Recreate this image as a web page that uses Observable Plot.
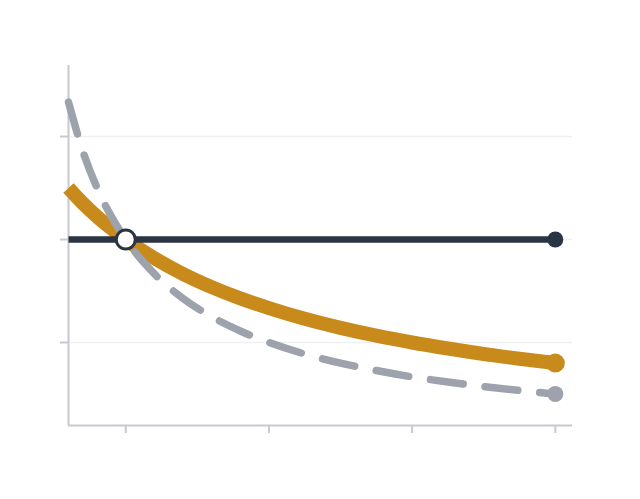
<!DOCTYPE html>
<html>
<head>
<meta charset="utf-8">
<script src="https://cdn.jsdelivr.net/npm/d3@7"></script>
<script src="https://cdn.jsdelivr.net/npm/@observablehq/plot@0.6"></script>
<style>
  html, body { margin: 0; padding: 0; background: #ffffff; }
  #chart svg { display: block; }
</style>
</head>
<body>
<div id="chart"></div>
<script>
// Values
const xs         = [0.6, 0.7, 0.8, 0.9, 1.0, 1.2, 1.4, 1.6, 1.8, 2.0, 2.25, 2.5, 2.75, 3.0, 3.25, 3.5, 3.75, 4.0];
const grayVals   = [1.667, 1.429, 1.25, 1.111, 1.0, 0.833, 0.714, 0.625, 0.556, 0.5, 0.444, 0.4, 0.364, 0.333, 0.308, 0.286, 0.267, 0.25];
const orangeVals = [1.25, 1.176, 1.111, 1.053, 1.0, 0.909, 0.833, 0.769, 0.714, 0.667, 0.615, 0.571, 0.533, 0.5, 0.471, 0.444, 0.421, 0.4];
const flatX      = [0.6, 4.0];
const flatVals   = [1.0, 1.0];
const crossPoint = [{x: 1.0, y: 1.0}];
const xTicks     = [1, 2, 3, 4];
const yTicks     = [0.5, 1.0, 1.5];
const xDomain    = [0.6, 4.12];
const yDomain    = [0.097, 1.845];

const gray   = xs.map((x, i) => ({x, y: grayVals[i]}));
const orange = xs.map((x, i) => ({x, y: orangeVals[i]}));
const flat   = flatX.map((x, i) => ({x, y: flatVals[i]}));

const C_DARK = "#2b3443", C_ORANGE = "#c98a1c", C_GRAY = "#9ea2ad", C_AXIS = "#c6cad0", C_GRID = "#eef0f2";

const chart = Plot.plot({
  width: 640,
  height: 499,
  marginLeft: 68,
  marginRight: 68,
  marginTop: 65,
  marginBottom: 74,
  x: {domain: xDomain},
  y: {domain: yDomain},
  marks: [
    Plot.gridY(yTicks, {stroke: C_GRID, strokeOpacity: 1, strokeWidth: 1.5}),
    Plot.ruleX([xDomain[0]], {stroke: C_AXIS, strokeWidth: 2}),
    Plot.ruleY([yDomain[0]], {stroke: C_AXIS, strokeWidth: 2}),
    Plot.axisX(xTicks, {tickSize: 8, stroke: C_AXIS, strokeWidth: 2, tickFormat: () => "", label: null}),
    Plot.axisY(yTicks, {tickSize: 8, stroke: C_AXIS, strokeWidth: 2, tickFormat: () => "", label: null}),
    Plot.line(orange, {x: "x", y: "y", stroke: C_ORANGE, strokeWidth: 14, curve: "monotone-x", strokeLinecap: "butt"}),
    Plot.line(gray, {x: "x", y: "y", stroke: C_GRAY, strokeWidth: 7.5, curve: "monotone-x", strokeDasharray: "33,22", strokeLinecap: "round"}),
    Plot.line(flat, {x: "x", y: "y", stroke: C_DARK, strokeWidth: 6.5, strokeLinecap: "butt"}),
    Plot.dot([orange[orange.length - 1]], {x: "x", y: "y", r: 9.5, fill: C_ORANGE}),
    Plot.dot([gray[gray.length - 1]], {x: "x", y: "y", r: 8, fill: C_GRAY}),
    Plot.dot([flat[flat.length - 1]], {x: "x", y: "y", r: 8, fill: C_DARK}),
    Plot.dot(crossPoint, {x: "x", y: "y", r: 9.5, fill: "#ffffff", stroke: C_DARK, strokeWidth: 3})
  ]
});
document.getElementById("chart").append(chart);
</script>
</body>
</html>
